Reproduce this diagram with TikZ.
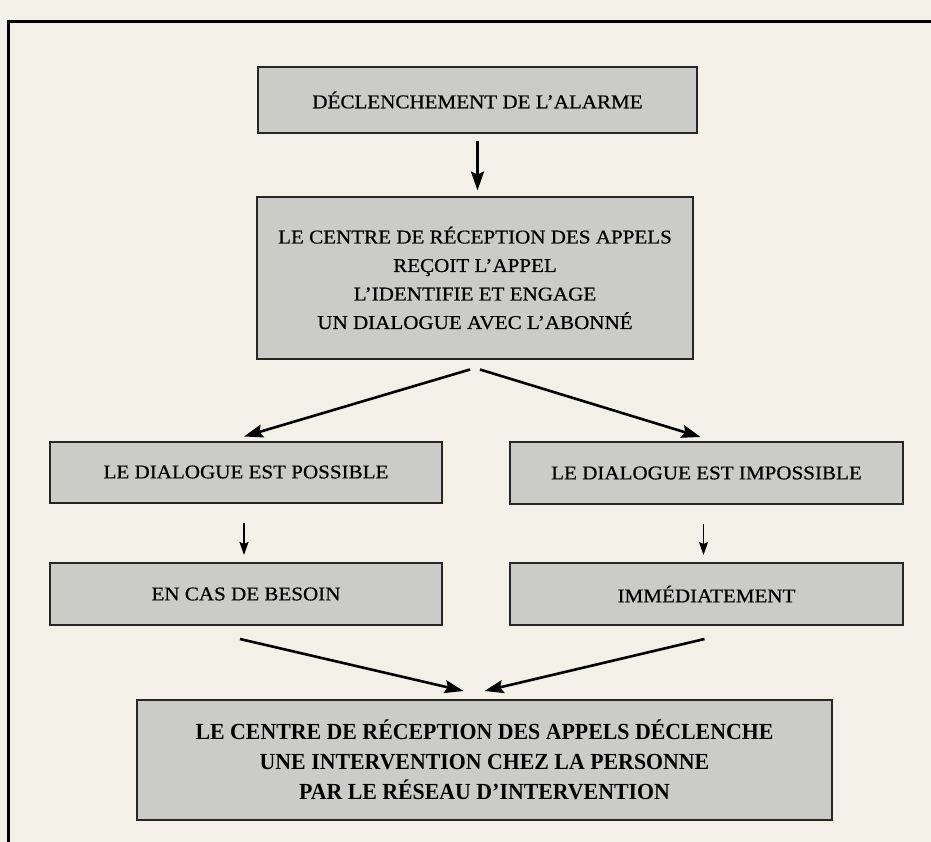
\documentclass[tikz,border=0pt]{standalone}
\usepackage{fontspec}
\setmainfont{Liberation Serif}
\newfontfamily\boitefont[FakeStretch=1.08,FakeBold=0.6]{Liberation Serif}
\newfontfamily\grasfont[FakeStretch=0.95]{Liberation Serif}
\usetikzlibrary{arrows.meta}
\definecolor{papier}{HTML}{F3F0E7}
\definecolor{gris}{HTML}{CBCBC7}
\tikzset{
  boite/.style={draw=black!85, line width=2pt, fill=gris, align=center,
    inner sep=0pt, font=\boitefont\fontsize{19.5}{28.5}\selectfont},
  fleche/.style={line width=2.6pt, -{Stealth[length=19pt,width=13pt,inset=3pt]}},
  petite/.style={line width=1.8pt, -{Stealth[length=13pt,width=9pt,inset=2pt]}},
}
\begin{document}
\begin{tikzpicture}[x=1pt,y=-1pt]
  \useasboundingbox[fill=papier] (0,0) rectangle (931,842) ;
  \clip (0,0) rectangle (931,842) ;
  \draw[line width=3pt] (8,900) |- (960,22) ;
%--- Alarme et centre
  \node[boite, minimum width=439pt, minimum height=66pt] (alarme) at (477.5,100)
    {DÉCLENCHEMENT DE L’ALARME} ;
  \node[boite, minimum width=436pt, minimum height=161pt] (centre) at (475,278)
    {LE CENTRE DE RÉCEPTION DES APPELS\\ REÇOIT L’APPEL\\
     L’IDENTIFIE ET ENGAGE\\ UN DIALOGUE AVEC L’ABONNÉ} ;
  \draw[fleche, shorten <=7pt, shorten >=6pt] (alarme.south) -- (alarme.south |- centre.north) ;
%--- Dialogue
  \node[boite, minimum width=392pt, minimum height=61pt] (possible) at (246,472)
    {LE DIALOGUE EST POSSIBLE} ;
  \node[boite, minimum width=393pt, minimum height=62pt] (impossible) at (706.5,473)
    {LE DIALOGUE EST IMPOSSIBLE} ;
  \draw[fleche] ([xshift=-5pt,yshift=-10pt]centre.south) -- ([xshift=-2pt,yshift=4pt]possible.north) ;
  \draw[fleche] ([xshift=5pt,yshift=-10pt]centre.south) -- ([xshift=-6pt,yshift=4pt]impossible.north) ;
%--- Delai
  \node[boite, minimum width=392pt, minimum height=62pt] (besoin) at (246,594)
    {EN CAS DE BESOIN} ;
  \node[boite, minimum width=393pt, minimum height=62pt] (immediat) at (706.5,594)
    {IMMÉDIATEMENT} ;
  \draw[petite, shorten <=19pt, shorten >=7pt] ([xshift=-2pt]possible.south) -- ([xshift=-2pt]besoin.north) ;
  \draw[petite, shorten <=19pt, shorten >=7pt] ([xshift=-3pt]impossible.south) -- ([xshift=-3pt]immediat.north) ;
%--- Intervention
  \node[boite, minimum width=695pt, minimum height=120pt,
    font=\grasfont\bfseries\fontsize{23}{30}\selectfont] (intervention) at (484.5,760)
    {LE CENTRE DE RÉCEPTION DES APPELS DÉCLENCHE\\
     UNE INTERVENTION CHEZ LA PERSONNE\\ PAR LE RÉSEAU D’INTERVENTION} ;
  \draw[fleche] ([xshift=-6pt,yshift=-13pt]besoin.south) -- ([xshift=-21pt,yshift=8pt]intervention.north) ;
  \draw[fleche] ([xshift=-2pt,yshift=-13pt]immediat.south) -- ([yshift=8pt]intervention.north) ;
\end{tikzpicture}
\end{document}
